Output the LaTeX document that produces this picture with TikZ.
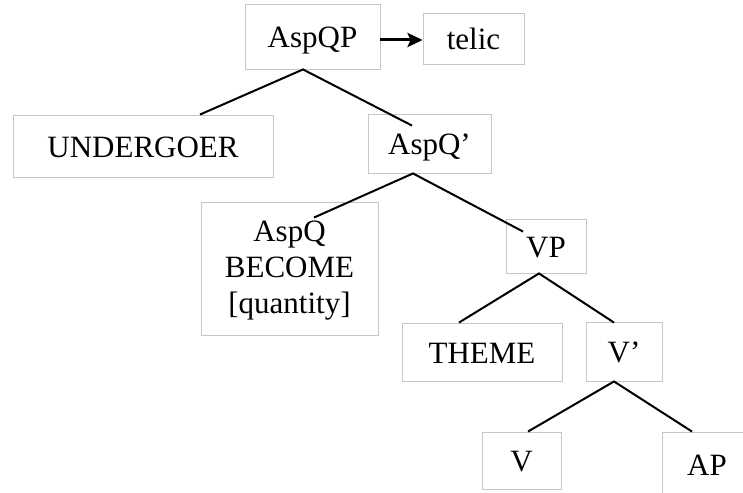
\documentclass[tikz,border=0pt]{standalone}
\usepackage{fontspec}
\setmainfont{Liberation Serif}
\usetikzlibrary{arrows.meta,calc}

\begin{document}
\begin{tikzpicture}[x=1pt, y=-1pt,
    lbl/.style={draw=gray!45, line width=0.9pt, inner sep=0pt, align=center, font=\fontsize{31}{36}\selectfont},
    word/.style={lbl, text height=22pt, text depth=0pt},
    branch/.style={line width=2pt}]
    \useasboundingbox (0,0) rectangle (743,492);
    \clip (0,0) rectangle (743,492);
    \node [word, minimum width=135pt, minimum height=65pt] (AspQP) at (312.5,36.5) {AspQP};
    \node [word, minimum width=101pt, minimum height=51pt] (telic) at (473.5,38.5) {telic};
    \node [word, minimum width=260pt, minimum height=62pt] (UNDERGOER) at (143,146) {UNDERGOER};
    \node [word, minimum width=123pt, minimum height=59pt] (AspQbar) at (429.5,143.5) {AspQ'};
    \node [lbl, minimum width=177pt, minimum height=133pt] (AspQ) at (289.5,268.5) {\vphantom{]}\\[-33pt]AspQ\\BECOME\\{[quantity]}};
    \node [word, minimum width=80pt, minimum height=54pt] (VP) at (546,246) {VP};
    \node [word, minimum width=160pt, minimum height=58pt] (THEME) at (482,352) {THEME};
    \node [word, minimum width=76pt, minimum height=59pt] (Vbar) at (624,351.5) {V'};
    \node [word, minimum width=79pt, minimum height=57pt] (V) at (521.5,460.5) {V};
    \node [word, minimum width=90pt, minimum height=64pt] (AP) at (707,464) {AP};
    \draw [-{Stealth[length=15pt, width=14pt, inset=3pt]}, line width=3pt] ($(AspQP.east)+(0,3.5)$) -- ($(telic.west)+(0,1.5)$);
    \draw [branch] ($(UNDERGOER.north)+(57,0)$) -- ($(AspQP.south)+(-9.5,0)$) -- ($(AspQbar.north)+(-17.5,12)$);
    \draw [branch] ($(AspQ.north)+(24.5,16)$) -- ($(AspQbar.south)+(-16.5,0)$) -- ($(VP.north)+(-23,13)$);
    \draw [branch] ($(THEME.north)+(-23,0)$) -- ($(VP.south)+(-7,0)$) -- ($(Vbar.north)+(-10,1)$);
    \draw [branch] ($(V.north)+(6.5,0)$) -- ($(Vbar.south)+(-10,0)$) -- ($(AP.north)+(-15,0)$);
\end{tikzpicture}
\end{document}
